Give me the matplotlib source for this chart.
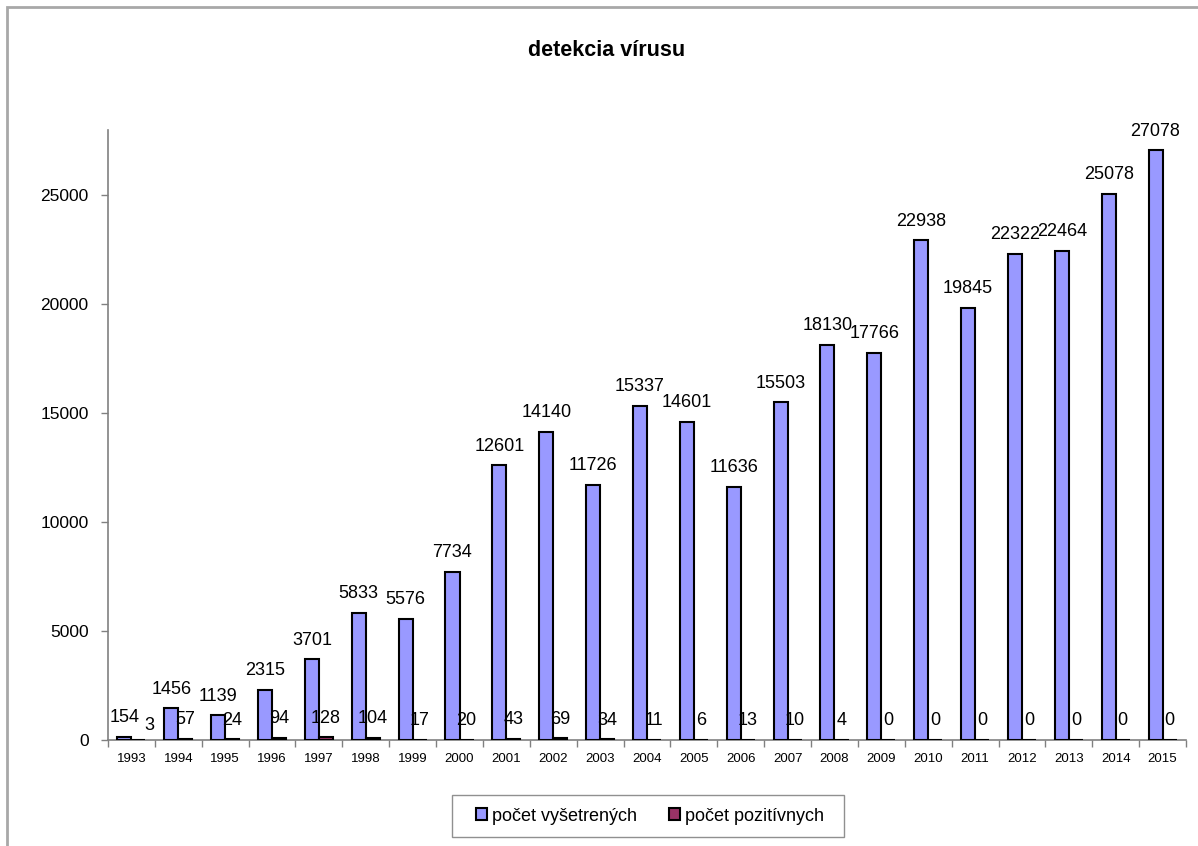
import matplotlib
matplotlib.use("Agg")
import matplotlib.pyplot as plt
from matplotlib.patches import Rectangle, Patch
import numpy as np

plt.rcParams['font.family'] = ['Liberation Sans', 'DejaVu Sans']

years = ['1993', '1994', '1995', '1996', '1997', '1998', '1999', '2000', '2001', '2002',
         '2003', '2004', '2005', '2006', '2007', '2008', '2009', '2010', '2011', '2012',
         '2013', '2014', '2015']
tested = [154, 1456, 1139, 2315, 3701, 5833, 5576, 7734, 12601, 14140,
          11726, 15337, 14601, 11636, 15503, 18130, 17766, 22938, 19845, 22322,
          22464, 25078, 27078]
positive = [3, 57, 24, 94, 128, 104, 17, 20, 43, 69,
            34, 11, 6, 13, 10, 4, 0, 0, 0, 0,
            0, 0, 0]
yticks = [0, 5000, 10000, 15000, 20000, 25000]

W, H = 1198, 846
fig = plt.figure(figsize=(W / 100, H / 100), dpi=100)
ax = fig.add_axes([108 / W, 1 - 740 / H, (1186 - 108) / W, (740 - 130) / H])

x = np.arange(len(years))
bw = 0.3
blue = '#9999FF'
red = '#993366'
ax.bar(x - bw / 2, tested, bw, color=blue, edgecolor='black', linewidth=1.5, zorder=3)
ax.bar(x + bw / 2, positive, bw, color=red, edgecolor='black', linewidth=1.5, zorder=3)

for xi, v in zip(x, tested):
    ax.annotate(str(v), (xi - bw / 2, v), xytext=(0, 10.5), textcoords='offset points',
                ha='center', va='baseline', fontsize=13)
for i, (xi, v) in enumerate(zip(x, positive)):
    # first label nudged right/down to avoid overlapping its neighbour, as in the source
    dx, dy = (8, 7) if i == 0 else (0, 10.5)
    ax.annotate(str(v), (xi + bw / 2, v), xytext=(dx, dy), textcoords='offset points',
                ha='center', va='baseline', fontsize=13)

ax.set_xlim(-0.5, len(years) - 0.5)
ax.set_ylim(0, 28000)
ax.set_yticks(yticks)
ax.set_yticklabels([str(t) for t in yticks], fontsize=12.5)
ax.set_xticks(x)
ax.set_xticklabels(years, fontsize=9.5)
ax.set_xticks(np.arange(-0.5, len(years)), minor=True)
ax.tick_params(axis='x', which='major', length=0, pad=9)
ax.tick_params(axis='x', which='minor', length=5, color='#808080', width=1)
ax.tick_params(axis='y', length=5, color='#808080', width=1, pad=9)
for s in ['top', 'right']:
    ax.spines[s].set_visible(False)
for s in ['left', 'bottom']:
    ax.spines[s].set_color('#808080')
    ax.spines[s].set_linewidth(1.2)

fig.text(607 / W, 1 - 51 / H, 'detekcia vírusu', ha='center', va='center',
         fontsize=15.5, fontweight='bold')

handles = [Patch(facecolor=blue, edgecolor='black', linewidth=1.5),
           Patch(facecolor=red, edgecolor='black', linewidth=1.5)]
leg = fig.legend(handles, ['počet vyšetrených', 'počet pozitívnych'], loc='center',
                 bbox_to_anchor=(650 / W, 1 - 816 / H), ncol=2, fontsize=13,
                 frameon=False, handlelength=0.6, handleheight=0.6,
                 handletextpad=0.25, columnspacing=1.8)
fig.patches.append(Rectangle((452 / W, 1 - 837 / H), (844 - 452) / W, (837 - 795) / H,
                             transform=fig.transFigure, fill=False,
                             edgecolor='#909090', linewidth=1.0))

fig.patches.append(Rectangle((7 / W, -0.05), 1.1, 1 - 7 / H + 0.05,
                             transform=fig.transFigure, fill=False,
                             edgecolor='#a8a8a8', linewidth=2))

fig.savefig('out.png', dpi=100)
